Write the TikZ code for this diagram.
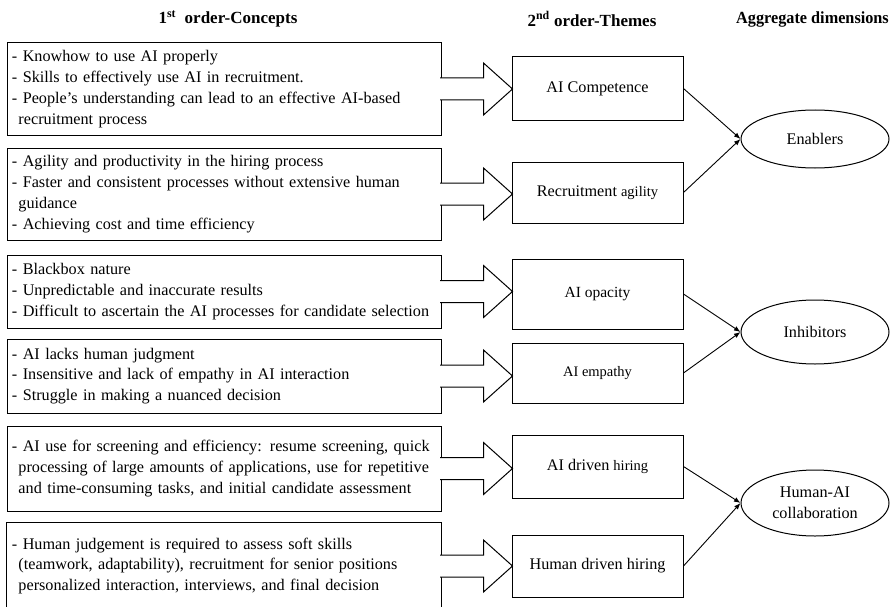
\documentclass[tikz,border=0pt]{standalone}
\usepackage{fontspec}
\setmainfont{Liberation Serif}
\usetikzlibrary{shapes.geometric,arrows.meta}
\newcommand{\bodyfs}{\fontsize{16.2}{20.8}\selectfont}
\newcommand{\smallfs}{\fontsize{14.5}{17}\selectfont}
\newcommand{\headfs}{\fontsize{17}{20}\selectfont\bfseries}
\newcommand{\ind}{\hspace*{0.4em}}
\newcommand{\fatarrow}[1]{%
  \path[draw, fill=white, line width=1pt, line join=miter]
    ([xshift=-1.5pt]#1.east) ++(0,-11) -- ++(43.5,0) -- ++(0,-15) -- ++(29,26)
    -- ++(-29,26) -- ++(0,-15) -- ++(-43.5,0);}
\begin{document}
\begin{tikzpicture}[x=1pt,y=-1pt,
  lbox/.style={draw, line width=1pt, minimum height=#1, text width=424pt,
    inner xsep=5pt, inner ysep=0pt, align=left, font=\bodyfs},
  tbox/.style={draw, line width=1pt, minimum width=171pt, minimum height=#1,
    inner sep=0pt, align=center, font=\bodyfs},
  dim/.style={draw, line width=1pt, ellipse, minimum width=148pt, minimum height=#1,
    inner sep=0pt, align=center, font=\bodyfs},
  head/.style={font=\headfs, inner sep=0pt},
  conn/.style={draw, line width=0.9pt, -{Latex[length=6.5pt,width=5pt]}}]
\useasboundingbox (0,0) rectangle (890,607);
\fill[white] (0,0) rectangle (890,607);

% headings
\node[head] (h1) at (228,19) {1\textsuperscript{st}\ \ order-Concepts};
\node[head] (h2) at (592,19) {2\textsuperscript{nd} order-Themes};
\node[head, anchor=east] (h3) at (889,19) {\scalebox{0.955}[1]{Aggregate dimensions}};

% first order concepts
\node[lbox=92pt] (c1) at (224,89) {- Knowhow to use AI properly\\
- Skills to effectively use AI in recruitment.\\
- People’s understanding can lead to an effective AI-based\\
\ind recruitment process};
\node[lbox=92pt] (c2) at (224,194) {- Agility and productivity in the hiring process\\
- Faster and consistent processes without extensive human\\
\ind guidance\\
- Achieving cost and time efficiency};
\node[lbox=73pt] (c3) at (224,291.5) {- Blackbox nature\\
- Unpredictable and inaccurate results\\
- Difficult to ascertain the AI processes for candidate selection};
\node[lbox=74pt] (c4) at (224,376) {- AI lacks human judgment\\
- Insensitive and lack of empathy in AI interaction\\
- Struggle in making a nuanced decision};
\node[lbox=85pt] (c5) at (224,468.5) {- AI use for screening and efficiency: resume screening, quick\\
\ind processing of large amounts of applications, use for repetitive\\
\ind and time-consuming tasks, and initial candidate assessment};
\node[lbox=86pt, draw=none] (c6) at (224,566) {- Human judgement is required to assess soft skills\\
\ind (teamwork, adaptability), recruitment for senior positions\\
\ind personalized interaction, interviews, and final decision};
\draw[line width=1pt] (c6.north west) ++(0,84) -- (c6.north west) -- (c6.north east) -- ++(0,84);

% second order themes
\node[tbox=63pt] (t1) at (597.5,88.5) {AI Competence};
\node[tbox=61pt] (t2) at (597.5,192.5) {Recruitment {\smallfs agility}};
\node[tbox=70pt] (t3) at (597.5,294) {{\fontsize{15.5}{18}\selectfont AI opacity}};
\node[tbox=60pt] (t4) at (597.5,373) {{\smallfs AI empathy}};
\node[tbox=63pt] (t5) at (597.5,466.5) {AI driven {\smallfs hiring}};
\node[tbox=62pt] (t6) at (597.5,566) {Human driven hiring};

% fat arrows
\fatarrow{c1}
\fatarrow{c2}
\fatarrow{c3}
\fatarrow{c4}
\fatarrow{c5}
\fatarrow{c6}

% aggregate dimensions
\node[dim=58pt] (e1) at (815,139) {Enablers};
\node[dim=64pt] (e2) at (815,332) {Inhibitors};
\node[dim=66pt] (e3) at (815,503) {Human-AI\\collaboration};

\draw[conn] (t1.east) -- (e1.west);
\draw[conn] (t2.east) -- (e1.west);
\draw[conn] (t3.east) -- (e2.west);
\draw[conn] (t4.east) -- (e2.west);
\draw[conn] (t5.east) -- (e3.west);
\draw[conn] (t6.east) -- (e3.west);
\end{tikzpicture}
\end{document}
